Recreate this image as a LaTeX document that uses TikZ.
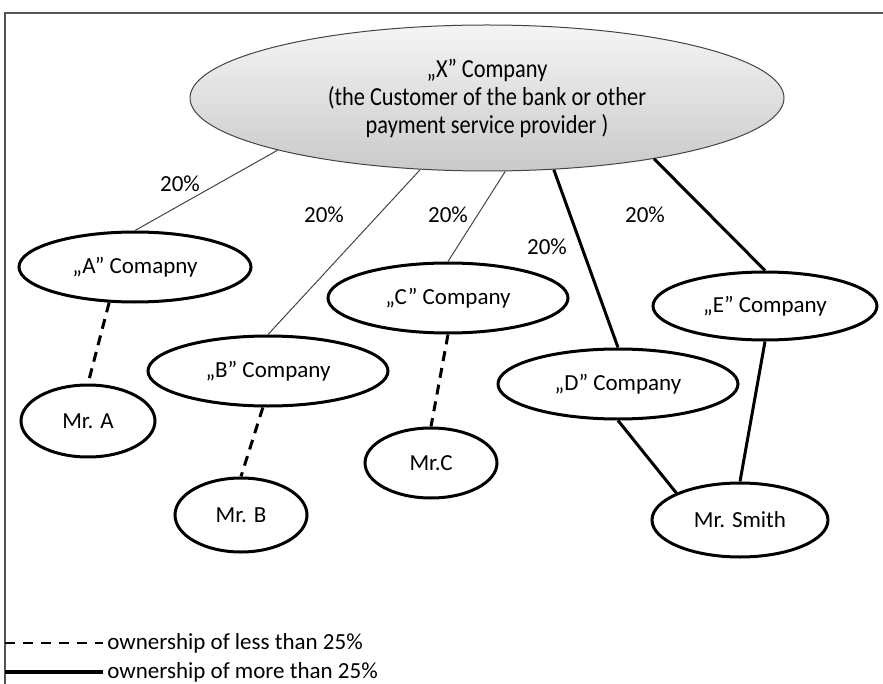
\documentclass[tikz,border=0pt]{standalone}
\usepackage{fontspec}
\setmainfont{Carlito}
\usetikzlibrary{shapes.geometric}
\definecolor{FrameGray}{HTML}{555555}
\definecolor{LineGray}{HTML}{444444}

\begin{document}
\begin{tikzpicture}[x=0.5pt, y=-0.5pt,
  every node/.style={font=\fontsize{11.5}{14}\selectfont, align=center},
  owner/.style={ellipse, draw=black, line width=1.5pt, fill=white, inner sep=0pt},
  share/.style={line width=1.5pt},
  minor/.style={line width=1.5pt, dash pattern=on 5pt off 3.5pt},
  thinline/.style={line width=0.5pt, LineGray}]
  \useasboundingbox (0,0) rectangle (883,684);

  % Frame, only top and left edge
  \draw[FrameGray, line width=1pt] (5,684) -- (5,13) -- (883,13);

  % The customer
  \node[ellipse, draw=LineGray, line width=0.5pt, top color=gray!8, bottom color=gray!42,
    minimum width=297pt, minimum height=73pt, inner sep=0pt,
    font=\addfontfeature{FakeStretch=0.86}\fontsize{13}{14}\selectfont] (xco) at (487,98)
  {„X” Company\\(the Customer of the bank or other\\payment service provider )};

  % Owner companies
  \node[owner, minimum width=116pt, minimum height=35pt] (aco) at (135,267) {„A” Comapny};
  \node[owner, minimum width=120pt, minimum height=35pt] (bco) at (268,371) {„B” Company};
  \node[owner, minimum width=120pt, minimum height=35pt] (cco) at (448,298) {„C” Company};
  \node[owner, minimum width=120pt, minimum height=35pt] (dco) at (618,384) {„D” Company};
  \node[owner, minimum width=112pt, minimum height=34pt] (eco) at (765,306) {„E” Company};

  % Persons
  \node[owner, minimum width=67pt, minimum height=36pt] (mra) at (88,421) {Mr. A};
  \node[owner, minimum width=66pt, minimum height=37pt] (mrb) at (241,515) {Mr. B};
  \node[owner, minimum width=66pt, minimum height=35pt] (mrc) at (431,463) {Mr.C};
  \node[owner, minimum width=88pt, minimum height=37pt] (smith) at (740,520) {Mr. Smith};

  % Shares held in X
  \draw[thinline] (xco.194) -- (aco.north);
  \draw[thinline] (xco.227) -- (bco.north);
  \draw[thinline] (xco.284) -- (cco.north);
  \draw[share] (xco.313) -- (dco.north);
  \draw[share] (xco.340) -- (eco.north);

  \node (pa) at (180,184) {20\%};
  \node (pb) at (324,215) {20\%};
  \node (pc) at (448,215) {20\%};
  \node (pd) at (547,247) {20\%};
  \node (pe) at (645,215) {20\%};

  % Owners of the companies
  \draw[minor] (aco.234) -- (mra.north);
  \draw[minor] (bco.262) -- (mrb.north);
  \draw[minor] (cco.south) -- (mrc.north);
  \draw[share] (dco.south) -- (smith.157);
  \draw[share] (eco.south) -- (smith.north);

  % Legend
  \coordinate (lessstart) at (5,643);
  \coordinate (morestart) at (5,672);
  \node[anchor=west, inner sep=2pt] (lesstxt) at (103,643) {ownership of less than 25\%};
  \node[anchor=west, inner sep=2pt] (moretxt) at (103,672) {ownership of more than 25\%};
  \draw[line width=1.2pt, dash pattern=on 5pt off 4pt] (lessstart) -- (lesstxt.west);
  \draw[line width=2pt] (morestart) -- (moretxt.west);
\end{tikzpicture}
\end{document}
